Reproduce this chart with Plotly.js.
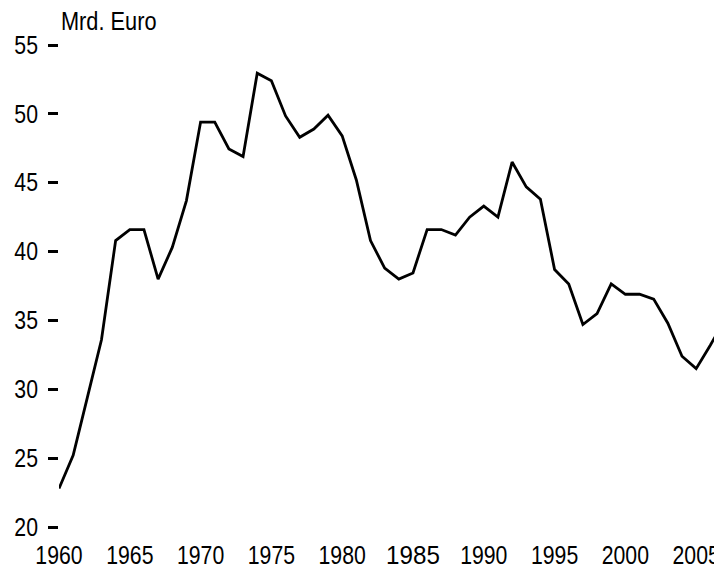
<!DOCTYPE html>
<html>
<head>
<meta charset="utf-8">
<script src="https://cdn.plot.ly/plotly-3.0.1.min.js"></script>
<style>html,body{margin:0;padding:0;background:#fff;}#chart{width:714px;height:569px;}</style>
</head>
<body>
<div id="chart"></div>
<script>
const years = [1960,1961,1962,1963,1964,1965,1966,1967,1968,1969,1970,1971,1972,1973,1974,1975,1976,1977,1978,1979,1980,1981,1982,1983,1984,1985,1986,1987,1988,1989,1990,1991,1992,1993,1994,1995,1996,1997,1998,1999,2000,2001,2002,2003,2004,2005,2006,2007];
const values = [22.8,25.2,29.4,33.6,40.8,41.6,41.6,38.0,40.3,43.7,49.4,49.4,47.45,46.9,52.95,52.4,49.85,48.3,48.9,49.9,48.4,45.2,40.8,38.8,38.0,38.45,41.6,41.6,41.2,42.5,43.3,42.5,46.5,44.7,43.8,38.7,37.65,34.7,35.5,37.65,36.9,36.9,36.55,34.8,32.4,31.5,33.2,35.0];
const xTickVals = [1960,1965,1970,1975,1980,1985,1990,1995,2000,2005];
const xTickText = ['1960','1965','1970','1975','1980','1985','1990','1995','2000','2005'];
const yTickVals = [20,25,30,35,40,45,50,55];
const unitLabel = 'Mrd. Euro';

const FONT = '"Liberation Sans", Arial, sans-serif';
const NARROW = 0.85;

const trace = {
  x: years, y: values, type: 'scatter', mode: 'lines',
  line: {color: '#000000', width: 2.8},
  hoverinfo: 'skip', cliponaxis: true
};

const layout = {
  width: 714, height: 569,
  margin: {l: 59, r: 0, t: 45, b: 42, pad: 0},
  paper_bgcolor: '#ffffff', plot_bgcolor: '#ffffff',
  showlegend: false,
  font: {family: FONT, size: 25, color: '#000000'},
  xaxis: {
    range: [1960, 2006.26],
    tickmode: 'array', tickvals: xTickVals, ticktext: xTickText,
    ticks: '', showgrid: false, zeroline: false, showline: false,
    tickfont: {family: FONT, size: 25, color: '#000'},
    ticklabelstandoff: 11, ticklabeloverflow: 'allow'
  },
  yaxis: {
    range: [20, 55],
    tickmode: 'array', tickvals: yTickVals,
    ticks: 'outside', ticklen: 10, tickwidth: 3, tickcolor: '#000',
    showgrid: false, zeroline: false, showline: false,
    tickfont: {family: FONT, size: 25, color: '#000'},
    ticklabelstandoff: 5
  },
  annotations: [{
    text: unitLabel, xref: 'paper', yref: 'paper', x: 0, y: 1,
    xanchor: 'left', yanchor: 'bottom', yshift: 8, showarrow: false,
    font: {family: FONT, size: 25, color: '#000'}
  }]
};

Plotly.newPlot('chart', [trace], layout, {displayModeBar: false, staticPlot: true}).then(function (gd) {
  // condense the glyphs horizontally, like the narrow face of the original
  gd.querySelectorAll('.xtick text, .ytick text').forEach(function (t) {
    let k = NARROW;
    if (t.textContent === '1985') {
      k = 0.93;
      t.style.fontSize = '26px';
    }
    const w = t.getComputedTextLength();
    t.setAttribute('textLength', (w * k).toFixed(2));
    t.setAttribute('lengthAdjust', 'spacingAndGlyphs');
  });
  gd.querySelectorAll('.annotation-text').forEach(function (t) {
    const w = t.getComputedTextLength();
    const x0 = parseFloat(t.getAttribute('x')) || 0;
    t.setAttribute('text-anchor', 'start');
    t.setAttribute('x', (x0 - w / 2).toFixed(2));
    t.setAttribute('textLength', (w * 0.87).toFixed(2));
    t.setAttribute('lengthAdjust', 'spacingAndGlyphs');
  });
});
</script>
</body>
</html>
